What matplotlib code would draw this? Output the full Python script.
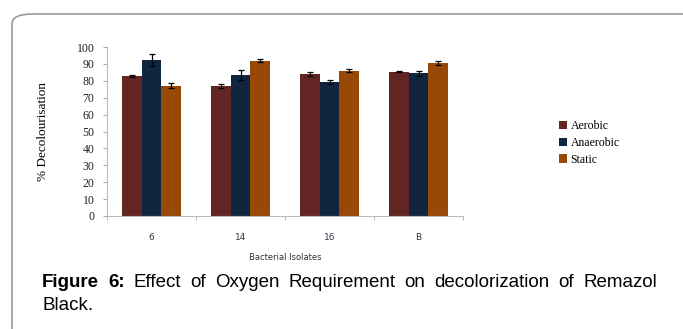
import matplotlib
matplotlib.use("Agg")
import matplotlib.pyplot as plt
import numpy as np
from matplotlib.patches import FancyBboxPatch

isolates = ['6', '14', '16', 'B']
conditions = ['Aerobic', 'Anaerobic', 'Static']
aerobic = [83.0, 77.0, 84.0, 85.5]
anaerobic = [92.5, 83.5, 79.5, 84.5]
static = [77.0, 92.0, 86.0, 90.5]
aerobic_err = [0.6, 1.2, 1.0, 0.5]
anaerobic_err = [3.5, 3.0, 1.2, 1.5]
static_err = [1.5, 0.8, 0.8, 1.3]
colors = ['#632523', '#10253f', '#984807']

W, H = 683, 329
fig = plt.figure(figsize=(W / 100, H / 100), dpi=100)

# rounded frame around the figure panel
frame = FancyBboxPatch((12 / W, -0.2), 1.2, 1 - 14 / H + 0.2,
                       boxstyle="round,pad=0,rounding_size=0.03",
                       transform=fig.transFigure, facecolor='none',
                       edgecolor='#9a9a9a', linewidth=1.2)
fig.patches.append(frame)

ax = fig.add_axes([107 / W, 1 - 216 / H, (463 - 107) / W, (216 - 47) / H])

x = np.arange(len(isolates))
w = 0.22
series = [(aerobic, aerobic_err), (anaerobic, anaerobic_err), (static, static_err)]
for i, (vals, errs) in enumerate(series):
    ax.bar(x + (i - 1) * w, vals, w, yerr=errs, color=colors[i],
           label=conditions[i], capsize=2.5,
           error_kw=dict(elinewidth=0.9, capthick=0.9, ecolor='black'))

ax.set_xlim(-0.5, 3.5)
ax.set_ylim(0, 100)
ax.set_yticks(range(0, 101, 10))
ax.set_yticklabels([str(v) for v in range(0, 101, 10)],
                   family='Liberation Serif', fontsize=8.5, color='#222222')
ax.set_xticks(x)
ax.set_xticklabels(isolates, family='DejaVu Sans', fontsize=6.5, color='#333344')
ax.set_xticks(np.arange(-0.5, 3.6, 1), minor=True)
ax.tick_params(axis='x', which='major', length=0, pad=12)
ax.tick_params(axis='x', which='minor', length=3, color='#aaaaaa')
ax.tick_params(axis='y', length=3, color='#aaaaaa', pad=6)

for s in ['top', 'right']:
    ax.spines[s].set_visible(False)
for s in ['left', 'bottom']:
    ax.spines[s].set_color('#bbbbbb')
    ax.spines[s].set_linewidth(0.8)

ax.set_xlabel('Bacterial Isolates', family='DejaVu Sans', fontsize=6,
              color='#333333', labelpad=8)
ax.set_ylabel('% Decolourisation', family='Liberation Serif',
              fontsize=9.5, labelpad=20)

ax.legend(loc='center left', bbox_to_anchor=(548 / W, 1 - 143 / H),
          bbox_transform=fig.transFigure, frameon=False,
          prop=dict(family='Liberation Serif', size=8.5),
          handlelength=0.7, handleheight=0.7, handletextpad=0.3,
          labelspacing=0.4)

# justified caption
line1 = [('Figure', 'bold'), ('6:', 'bold'), ('Effect', 'normal'), ('of', 'normal'),
         ('Oxygen', 'normal'), ('Requirement', 'normal'), ('on', 'normal'),
         ('decolorization', 'normal'), ('of', 'normal'), ('Remazol', 'normal')]
left, right = 42, 657
y1 = 1 - 287 / H
fig.canvas.draw()
renderer = fig.canvas.get_renderer()
texts = []
total = 0
for word, weight in line1:
    t = fig.text(0, y1, word, family='Liberation Sans', fontsize=13.5,
                 fontweight=weight, va='baseline', ha='left')
    wpx = t.get_window_extent(renderer).width
    texts.append((t, wpx))
    total += wpx
gap = (right - left - total) / (len(texts) - 1)
xpos = left
for t, wpx in texts:
    t.set_x(xpos / W)
    xpos += wpx + gap
fig.text(left / W, 1 - 310 / H, 'Black.', family='Liberation Sans',
         fontsize=13.5, va='baseline', ha='left')

fig.savefig('out.png', dpi=100)
